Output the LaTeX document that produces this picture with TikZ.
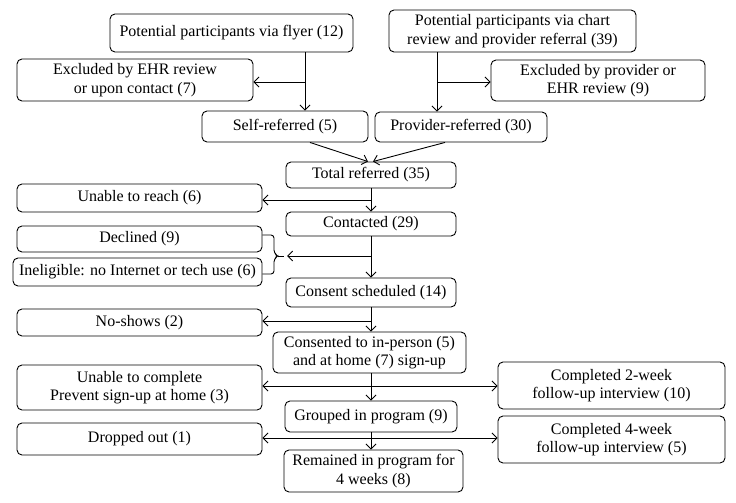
\documentclass[tikz,border=0pt]{standalone}
\usepackage{fontspec}
\setmainfont{Liberation Serif}
\usetikzlibrary{arrows.meta}
\begin{document}
\begin{tikzpicture}[x=1pt,y=-1pt,
  box/.style={draw, rounded corners=5pt, align=center, inner sep=0pt,
    font=\fontsize{16}{18.5}\selectfont, line width=0.9pt},
  arr/.style={-{Straight Barb[length=5pt,width=10pt]}, line width=0.9pt},
  ln/.style={line width=0.9pt}]
\useasboundingbox (0,0) rectangle (736,503);
% boxes
\node[box, minimum width=243pt, minimum height=38pt] (flyer) at (231.5,33) {Potential participants via flyer (12)};
\node[box, minimum width=247pt, minimum height=42pt] (chart) at (512.5,31) {Potential participants via chart\\review and provider referral (39)};
\node[box, minimum width=236pt, minimum height=42pt] (exehr) at (135,80) {Excluded by EHR review\\or upon contact (7)};
\node[box, minimum width=214pt, minimum height=41pt] (exprov) at (598,80.5) {Excluded by provider or\\EHR review (9)};
\node[box, minimum width=166pt, minimum height=31pt] (self) at (285,126.5) {Self-referred (5)};
\node[box, minimum width=172pt, minimum height=30pt] (prov) at (461,127) {Provider-referred (30)};
\node[box, minimum width=170pt, minimum height=26pt] (total) at (371,175) {Total referred (35)};
\node[box, minimum width=245pt, minimum height=28pt] (reach) at (139.5,198) {Unable to reach (6)};
\node[box, minimum width=170pt, minimum height=24pt] (contacted) at (371,224) {Contacted (29)};
\node[box, minimum width=245pt, minimum height=26pt] (declined) at (139.5,239) {Declined (9)};
\node[box, minimum width=249pt, minimum height=28pt] (inelig) at (137.5,272) {Ineligible: no Internet or tech use (6)};
\node[box, minimum width=170pt, minimum height=29pt] (sched) at (371,292.5) {Consent scheduled (14)};
\node[box, minimum width=245pt, minimum height=27pt] (noshow) at (139.5,322.5) {No-shows (2)};
\node[box, minimum width=193pt, minimum height=41pt] (consented) at (369.5,352.5) {Consented to in-person (5)\\and at home (7) sign-up};
\node[box, minimum width=245pt, minimum height=45pt] (uncomp) at (139.5,387.5) {Unable to complete\\Prevent sign-up at home (3)};
\node[box, minimum width=227pt, minimum height=47pt] (comp2) at (611.5,385.5) {Completed 2-week\\follow-up interview (10)};
\node[box, minimum width=172pt, minimum height=31pt] (grouped) at (371,416.5) {Grouped in program (9)};
\node[box, minimum width=245pt, minimum height=32pt] (dropped) at (139.5,439) {Dropped out (1)};
\node[box, minimum width=227pt, minimum height=47pt] (comp4) at (611.5,439.5) {Completed 4-week\\follow-up interview (5)};
\node[box, minimum width=179pt, minimum height=42pt] (remained) at (373.5,471) {Remained in program for\\4 weeks (8)};
% junctions
\coordinate (j1) at (305,82);
\coordinate (j2) at (437,82);
\coordinate (b1) at (371,200);
\coordinate (b2) at (371,256);
\coordinate (bt) at (287,256);
\coordinate (bs) at (278,256);
\coordinate (b3) at (371,321);
\coordinate (b4) at (371,386);
\coordinate (b5) at (371,438);
% top connectors
\draw[arr] (flyer.south -| j1) -- (self.north -| j1);
\draw[arr] (j1) -- (exehr.east |- j1);
\draw[arr] (chart.south -| j2) -- (prov.north -| j2);
\draw[arr] (j2) -- (exprov.west |- j2);
\draw[arr] ([xshift=25pt]self.south) -- ([xshift=-3pt]total.north);
\draw[arr] ([xshift=-16pt]prov.south) -- ([xshift=2pt]total.north);
% main column
\draw[arr] (total.south) -- (contacted.north);
\draw[arr] (b1) -- (reach.east |- b1);
\draw[arr] (contacted.south) -- (sched.north);
\draw[arr] (b2) -- (bt);
\draw[ln, rounded corners=3pt] (declined.east |- 0,235) -- (274,235) -- (274,253) -- (bs) -- (274,259) -- (274,274) -- (inelig.east |- 0,274);
\draw[ln] (bs) -- (284,256);
\draw[arr] (sched.south) -- (sched.south |- consented.north);
\draw[arr] (b3) -- (noshow.east |- b3);
\draw[arr] (grouped.north |- consented.south) -- (grouped.north);
\draw[arr] (b4) -- (uncomp.east |- b4);
\draw[arr] (b4) -- (comp2.west |- b4);
\draw[arr] (grouped.south) -- (grouped.south |- remained.north);
\draw[arr] (b5) -- (dropped.east |- b5);
\draw[arr] (b5) -- (comp4.west |- b5);
\end{tikzpicture}
\end{document}
